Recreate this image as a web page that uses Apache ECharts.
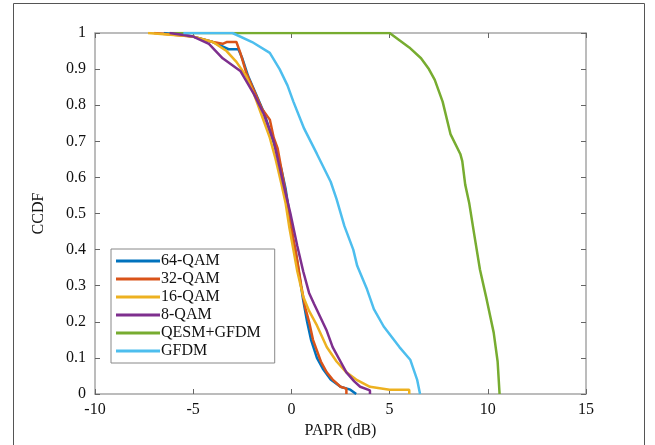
<!DOCTYPE html>
<html>
<head>
<meta charset="utf-8">
<script src="https://cdn.jsdelivr.net/npm/echarts@6/dist/echarts.min.js"></script>
<style>html,body{margin:0;padding:0;background:#fff;}#c{width:655px;height:445px;}</style>
</head>
<body>
<div id="c"></div>
<script>
const seriesNames = ['64-QAM', '32-QAM', '16-QAM', '8-QAM', 'QESM+GFDM', 'GFDM'];
const seriesColors = ['#0072BD', '#D95319', '#EDB120', '#7E2F8E', '#77AC30', '#4DBEEE'];
const xTicks = [-10, -5, 0, 5, 10, 15];
const yTicks = [0, 0.1, 0.2, 0.3, 0.4, 0.5, 0.6, 0.7, 0.8, 0.9, 1];

const qam64 = [[-6.5,1],[-5,0.99],[-4,0.975],[-3.4,0.96],[-3.2,0.955],[-2.7,0.955],[-2.5,0.93],[-2.2,0.88],[-1.8,0.83],[-1.4,0.78],[-1.1,0.73],[-0.8,0.68],[-0.5,0.62],[-0.3,0.57],[-0.1,0.5],[0,0.44],[0.2,0.4],[0.4,0.33],[0.6,0.26],[0.8,0.2],[1.0,0.15],[1.3,0.1],[1.6,0.07],[2.0,0.04],[2.5,0.02],[3.0,0.012],[3.3,0.0]];
const qam32 = [[-7,1],[-5,0.99],[-4,0.975],[-3.5,0.97],[-3.3,0.975],[-2.8,0.975],[-2.6,0.945],[-2.3,0.89],[-1.9,0.84],[-1.5,0.79],[-1.1,0.76],[-0.9,0.71],[-0.7,0.68],[-0.5,0.62],[-0.3,0.56],[-0.1,0.5],[0.1,0.43],[0.3,0.37],[0.5,0.3],[0.7,0.24],[0.9,0.2],[1.1,0.15],[1.3,0.12],[1.5,0.09],[1.8,0.06],[2.1,0.04],[2.5,0.02],[2.8,0.015],[2.8,0]];
const qam16 = [[-7.3,1],[-5,0.99],[-4,0.975],[-3.3,0.95],[-2.8,0.92],[-2.3,0.88],[-1.9,0.83],[-1.5,0.77],[-1.1,0.71],[-0.8,0.65],[-0.5,0.58],[-0.3,0.53],[-0.1,0.46],[0.1,0.4],[0.3,0.34],[0.6,0.27],[0.9,0.23],[1.3,0.19],[1.8,0.13],[2.3,0.09],[2.8,0.06],[3.3,0.04],[4.0,0.02],[5.0,0.012],[6.0,0.012],[6.0,0]];
const qam8 = [[-6.2,1],[-5,0.99],[-4.2,0.97],[-3.5,0.93],[-2.6,0.895],[-1.9,0.83],[-1.4,0.775],[-0.9,0.7],[-0.4,0.58],[-0.05,0.5],[0.3,0.41],[0.6,0.34],[0.9,0.28],[1.15,0.25],[1.5,0.21],[1.8,0.175],[2.1,0.13],[2.5,0.09],[2.8,0.06],[3.2,0.035],[3.5,0.02],[4.0,0.01],[4.0,0]];
const qesmGfdm = [[-6.2,1],[5.0,1],[5.5,0.98],[6.0,0.96],[6.6,0.93],[7.0,0.9],[7.3,0.87],[7.7,0.81],[8.1,0.72],[8.6,0.665],[8.7,0.645],[8.85,0.58],[9.05,0.53],[9.3,0.445],[9.6,0.345],[9.95,0.26],[10.3,0.17],[10.5,0.09],[10.6,0.0]];
const gfdm = [[-5.5,1],[-3,1],[-2,0.975],[-1.1,0.945],[-0.6,0.9],[-0.2,0.855],[0.1,0.81],[0.65,0.735],[1.3,0.665],[2.0,0.588],[2.3,0.54],[2.7,0.465],[3.15,0.4],[3.35,0.355],[3.85,0.29],[4.2,0.235],[4.7,0.187],[5.5,0.13],[6.05,0.095],[6.4,0.04],[6.55,0.0]];

const allData = [qam64, qam32, qam16, qam8, qesmGfdm, gfdm];
const font = 'Liberation Serif';
const axisGrey = '#a6a6a6';

const chart = echarts.init(document.getElementById('c'));
const series = seriesNames.map((n, i) => ({
  name: n, type: 'line', data: allData[i], showSymbol: false, symbol: 'none',
  lineStyle: { color: seriesColors[i], width: 2.5 }, itemStyle: { color: seriesColors[i] },
  z: 2 + (i === 4 ? 0 : 1), animation: false
}));

chart.setOption({
  animation: false,
  backgroundColor: '#fff',
  textStyle: { fontFamily: font },
  graphic: [{ type: 'rect', left: 11, top: 1, shape: { width: 631, height: 442 }, style: { fill: 'none', stroke: '#555', lineWidth: 1 }, silent: true }],
  grid: { left: 95, right: 69, top: 33, bottom: 51, containLabel: false },
  legend: {
    data: seriesNames.map((n, i) => ({ name: n, icon: 'rect' })),
    orient: 'vertical', left: 111, top: 249,
    itemWidth: 44, itemHeight: 3, itemGap: 2,
    padding: [4, 14, 4, 5],
    backgroundColor: '#fff', borderColor: '#888', borderWidth: 1,
    textStyle: { fontFamily: font, fontSize: 16, color: '#111', lineHeight: 16, padding: [0, 0, 0, -4] }
  },
  xAxis: [{
    type: 'value', min: -10, max: 15, interval: 5, position: 'bottom',
    name: 'PAPR (dB)', nameLocation: 'middle', nameGap: 27,
    nameTextStyle: { fontFamily: font, fontSize: 16, color: '#111' },
    axisLine: { show: true, onZero: false, lineStyle: { color: axisGrey, width: 1.5 } },
    axisTick: { show: true, inside: true, length: 5, lineStyle: { color: '#666' } },
    axisLabel: { fontFamily: font, fontSize: 16, color: '#111', margin: 8, formatter: v => xTicks.includes(v) ? String(v) : '' },
    splitLine: { show: false }
  }, {
    type: 'value', min: -10, max: 15, interval: 5, position: 'top',
    axisLine: { show: true, onZero: false, lineStyle: { color: axisGrey, width: 1.5 } },
    axisTick: { show: true, inside: true, length: 5, lineStyle: { color: '#666' } },
    axisLabel: { show: false }, splitLine: { show: false }
  }],
  yAxis: [{
    type: 'value', min: 0, max: 1, interval: 0.1, position: 'left',
    name: 'CCDF', nameLocation: 'middle', nameGap: 48, nameRotate: 90,
    nameTextStyle: { fontFamily: font, fontSize: 16, color: '#111' },
    axisLine: { show: true, onZero: false, lineStyle: { color: axisGrey, width: 1.5 } },
    axisTick: { show: true, inside: true, length: 5, lineStyle: { color: '#666' } },
    axisLabel: { fontFamily: font, fontSize: 16, color: '#111', margin: 9, formatter: v => { const t = yTicks.find(y => Math.abs(y - v) < 1e-6); return t === undefined ? '' : String(t); } },
    splitLine: { show: false }
  }, {
    type: 'value', min: 0, max: 1, interval: 0.1, position: 'right',
    axisLine: { show: true, onZero: false, lineStyle: { color: axisGrey, width: 1.5 } },
    axisTick: { show: true, inside: true, length: 5, lineStyle: { color: '#666' } },
    axisLabel: { show: false }, splitLine: { show: false }
  }],
  series: series
});
</script>
</body>
</html>
